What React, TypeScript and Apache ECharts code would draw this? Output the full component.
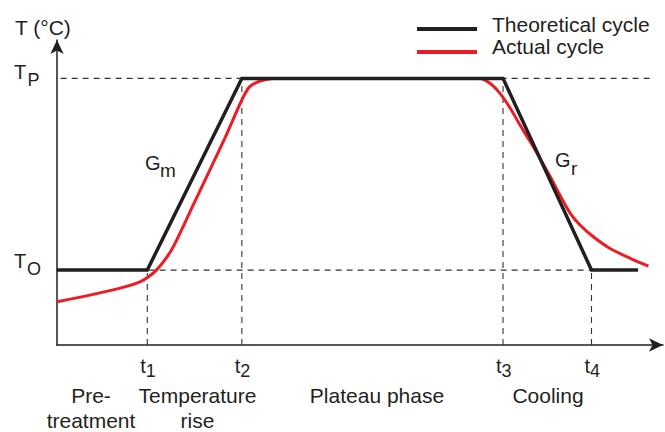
import React, { useEffect, useRef } from "react";
import * as echarts from "echarts";

// Reference temperatures (arbitrary units on the y axis)
const T_O = 28.1;
const T_P = 100;
// Characteristic times t1..t4 (arbitrary units on the x axis)
const timeMarks = [14.9, 30.5, 73.6, 88.2];
const timeSubs = ["1", "2", "3", "4"];

const seriesNames = ["Theoretical cycle", "Actual cycle"];

// Theoretical cycle
const theoreticalX = [0, 14.9, 30.5, 73.6, 88.2, 95.9];
const theoreticalY = [T_O, T_O, T_P, T_P, T_O, T_O];

// Actual cycle
const actualX = [0, 5.4, 10.9, 13.7, 15.1, 16.4, 17.8, 19.2, 22.6, 27.8, 30.5, 31.8, 33.5, 35.7, 37.6,
  69.8, 71.5, 73.1, 74.8, 76.4, 78.1, 79.7, 81.4, 83.0, 84.7, 86.3, 88.5, 91.2, 94.6, 97.6];
const actualY = [16.2, 18.7, 21.6, 23.7, 25.6, 28.1, 31.9, 36.9, 53.1, 78.1, 91.9, 96.9, 99.0, 100, 100,
  100, 98.1, 94.4, 88.8, 82.5, 76.2, 70.0, 63.1, 56.2, 49.4, 45.0, 40.6, 36.3, 32.5, 29.6];

const phaseLabels = [["Pre-", "treatment"], ["Temperature", "rise"], ["Plateau phase"], ["Cooling"]];

const INK = "#231f20";
const RED = "#ed1c24";
const DASH = "#333333";
const FONT = '"Liberation Sans", Arial, Helvetica, sans-serif';

export default function App() {
  const ref = useRef<HTMLDivElement>(null);

  useEffect(() => {
    document.body.style.margin = "0";
    const chart = echarts.init(ref.current!, null, { renderer: "svg" });

    const zip = (xs: number[], ys: number[]) => xs.map((x, i) => [x, ys[i]]);

    const dashed = (pts: number[][]) => ({
      type: "line",
      data: pts,
      symbol: "none",
      silent: true,
      clip: false,
      z: 1,
      lineStyle: { color: DASH, width: 1.1, type: [6, 5] },
    });
    const solid = (pts: number[][]) => ({
      type: "line",
      data: pts,
      symbol: "none",
      silent: true,
      clip: false,
      z: 1,
      lineStyle: { color: DASH, width: 1.3 },
    });

    const helperSeries: any[] = [
      dashed([[0.6, T_P], [97.9, T_P]]),
      dashed([[0.6, T_O], [timeMarks[3], T_O]]),
      solid([[-1.5, T_P], [0, T_P]]),
      solid([[-1.5, T_O], [0, T_O]]),
      dashed([[timeMarks[0], 0], [timeMarks[0], T_O]]),
      dashed([[timeMarks[1], 0], [timeMarks[1], T_P]]),
      dashed([[timeMarks[2], 0], [timeMarks[2], T_P]]),
      dashed([[timeMarks[3], 0], [timeMarks[3], T_O]]),
    ];

    const axisCommon = {
      type: "value",
      min: 0,
      axisLine: {
        show: true,
        onZero: false,
        symbol: ["none", "arrow"],
        symbolSize: [10, 14],
        lineStyle: { color: INK, width: 1.5 },
      },
      axisTick: { show: false },
      axisLabel: { show: false },
      splitLine: { show: false },
    };

    chart.setOption({
      animation: false,
      grid: { left: 57, top: 40, right: 2, bottom: 87, containLabel: false },
      xAxis: { ...axisCommon, max: 100 },
      yAxis: { ...axisCommon, max: 114.4 },
      series: [
        ...helperSeries,
        {
          name: seriesNames[1],
          type: "line",
          data: zip(actualX, actualY),
          symbol: "none",
          smooth: 0.3,
          color: RED,
          z: 3,
          lineStyle: { color: RED, width: 3 },
        },
        {
          name: seriesNames[0],
          type: "line",
          data: zip(theoreticalX, theoreticalY),
          symbol: "none",
          color: INK,
          z: 4,
          lineStyle: { color: INK, width: 3.5, join: "miter" },
        },
      ],
    });

    const px = (x: number, y: number) => chart.convertToPixel({ gridIndex: 0 }, [x, y]) as number[];
    const txt = (text: string, x: number, y: number, size: number, align = "left") => ({
      type: "text",
      x,
      y,
      silent: true,
      style: { text, fontFamily: FONT, fontSize: size, fill: INK, align, verticalAlign: "middle" },
    });
    const seg = (x1: number, y1: number, x2: number, y2: number, color: string, w: number) => ({
      type: "line",
      silent: true,
      shape: { x1, y1, x2, y2 },
      style: { stroke: color, lineWidth: w },
    });

    const yP = px(0, T_P)[1];
    const yO = px(0, T_O)[1];
    const yAxisBase = px(0, 0)[1];
    const g: any[] = [];
    // legend
    g.push(seg(417, 29, 477, 29, INK, 4));
    g.push(seg(417, 52, 477, 52, RED, 4));
    g.push(txt(seriesNames[0], 492, 24, 21));
    g.push(txt(seriesNames[1], 492, 46, 21));
    // axis labels
    g.push(txt("T (°C)", 15, 27, 21));
    g.push(txt("T", 14, yP - 6, 20));
    g.push(txt("P", 27.5, yP + 2, 18));
    g.push(txt("T", 14, yO - 9, 20));
    g.push(txt("O", 27, yO - 1, 18));
    timeMarks.forEach((t, i) => {
      const xt = px(t, 0)[0];
      g.push(txt("t", xt - 1.5, yAxisBase + 21, 20, "right"));
      g.push(txt(timeSubs[i], xt - 1.5, yAxisBase + 25.5, 18));
    });
    const phaseX = [91, 197.5, 377, 548];
    phaseLabels.forEach((lines, i) => {
      lines.forEach((l, j) => g.push(txt(l, phaseX[i], 395.5 + j * 24.5, 21, "center")));
    });
    g.push(txt("G", 145, 163, 20));
    g.push(txt("m", 160, 170, 19));
    g.push(txt("G", 555, 160, 20));
    g.push(txt("r", 571, 168, 19));

    chart.setOption({ graphic: g });

    return () => chart.dispose();
  }, []);

  return <div ref={ref} style={{ position: "fixed", left: 0, top: 0, width: 665, height: 432, background: "#fff" }} />;
}
